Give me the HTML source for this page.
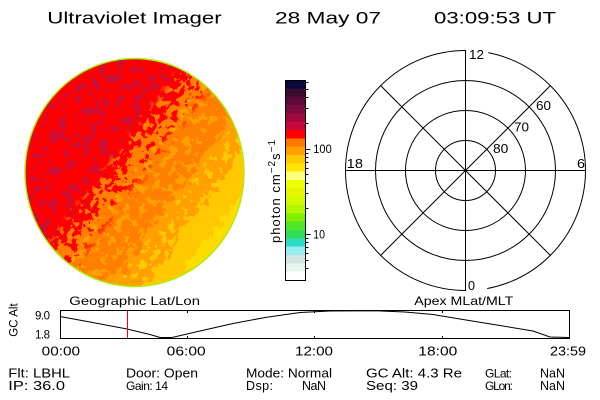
<!DOCTYPE html>
<html><head><meta charset="utf-8"><style>
html,body{margin:0;padding:0;background:#fff;}
svg{display:block;}
text{font-family:"Liberation Sans",sans-serif;fill:#000;}
</style></head><body>
<svg width="600" height="400" viewBox="0 0 600 400" xmlns="http://www.w3.org/2000/svg">
<defs>
<linearGradient id="g" gradientUnits="userSpaceOnUse" x1="0" y1="0" x2="320" y2="240">
<stop offset="0" stop-color="#ff0000"/>
<stop offset="0.495" stop-color="#ff0000"/>
<stop offset="0.495" stop-color="#ff8000"/>
<stop offset="0.645" stop-color="#ff8000"/>
<stop offset="0.645" stop-color="#ffa000"/>
<stop offset="0.7125" stop-color="#ffa000"/>
<stop offset="0.7125" stop-color="#ffc800"/>
<stop offset="0.775" stop-color="#ffc800"/>
<stop offset="0.775" stop-color="#ffdc00"/>
<stop offset="1" stop-color="#ffdc00"/>
</linearGradient>
<linearGradient id="gm1" gradientUnits="userSpaceOnUse" x1="0" y1="0" x2="320" y2="240">
<stop offset="0" stop-color="#fff"/>
<stop offset="0.43" stop-color="#fff"/>
<stop offset="0.49" stop-color="#000"/>
<stop offset="1" stop-color="#000"/>
</linearGradient>
<linearGradient id="gm2" gradientUnits="userSpaceOnUse" x1="0" y1="0" x2="320" y2="240">
<stop offset="0" stop-color="#000"/>
<stop offset="0.51" stop-color="#000"/>
<stop offset="0.53" stop-color="#fff"/>
<stop offset="0.64" stop-color="#fff"/>
<stop offset="0.65" stop-color="#000"/>
<stop offset="1" stop-color="#000"/>
</linearGradient>
<linearGradient id="gm3" gradientUnits="userSpaceOnUse" x1="0" y1="0" x2="320" y2="240">
<stop offset="0" stop-color="#000"/>
<stop offset="0.65" stop-color="#000"/>
<stop offset="0.66" stop-color="#fff"/>
<stop offset="0.71" stop-color="#fff"/>
<stop offset="0.72" stop-color="#000"/>
<stop offset="1" stop-color="#000"/>
</linearGradient>
<linearGradient id="gm4" gradientUnits="userSpaceOnUse" x1="0" y1="0" x2="320" y2="240">
<stop offset="0" stop-color="#000"/>
<stop offset="0.45" stop-color="#000"/>
<stop offset="0.475" stop-color="#fff"/>
<stop offset="0.495" stop-color="#fff"/>
<stop offset="0.495" stop-color="#000"/>
<stop offset="1" stop-color="#000"/>
</linearGradient>
<linearGradient id="gm5" gradientUnits="userSpaceOnUse" x1="0" y1="0" x2="320" y2="240">
<stop offset="0" stop-color="#000"/>
<stop offset="0.495" stop-color="#000"/>
<stop offset="0.495" stop-color="#fff"/>
<stop offset="0.53" stop-color="#fff"/>
<stop offset="0.57" stop-color="#000"/>
<stop offset="1" stop-color="#000"/>
</linearGradient>
<clipPath id="ce"><ellipse cx="134.5" cy="172.5" rx="109.5" ry="114"/></clipPath>
<filter id="disp" x="-10%" y="-10%" width="120%" height="120%" color-interpolation-filters="sRGB">
<feTurbulence type="fractalNoise" baseFrequency="0.09" numOctaves="3" seed="5" result="t"/>
<feDisplacementMap in="SourceGraphic" in2="t" scale="24" xChannelSelector="R" yChannelSelector="G"/>
</filter>
<filter id="crim" x="0" y="0" width="100%" height="100%" color-interpolation-filters="sRGB">
<feTurbulence type="fractalNoise" baseFrequency="0.12" numOctaves="3" seed="9" result="t"/>
<feColorMatrix in="t" type="matrix" values="0 0 0 0 0  0 0 0 0 0  0 0 0 0 0  1 0 0 0 0" result="a"/>
<feComponentTransfer in="a" result="b"><feFuncA type="discrete" tableValues="0 0 0 0 0 0 0 1 1 1 1 1"/></feComponentTransfer>
<feFlood flood-color="#c8103c"/>
<feComposite in2="b" operator="in"/>
</filter>
<filter id="spa" x="0" y="0" width="100%" height="100%" color-interpolation-filters="sRGB">
<feTurbulence type="fractalNoise" baseFrequency="0.13" numOctaves="3" seed="21" result="t"/>
<feColorMatrix in="t" type="matrix" values="0 0 0 0 0  0 0 0 0 0  0 0 0 0 0  1 0 0 0 0" result="a"/>
<feComponentTransfer in="a" result="b"><feFuncA type="discrete" tableValues="0 0 0 0 0 0 0 1 1 1 1 1"/></feComponentTransfer>
<feFlood flood-color="#ffa000"/>
<feComposite in2="b" operator="in"/>
</filter>
<filter id="spc" x="0" y="0" width="100%" height="100%" color-interpolation-filters="sRGB">
<feTurbulence type="fractalNoise" baseFrequency="0.13" numOctaves="3" seed="33" result="t"/>
<feColorMatrix in="t" type="matrix" values="0 0 0 0 0  0 0 0 0 0  0 0 0 0 0  1 0 0 0 0" result="a"/>
<feComponentTransfer in="a" result="b"><feFuncA type="discrete" tableValues="0 0 0 0 0 0 0 1 1 1 1 1"/></feComponentTransfer>
<feFlood flood-color="#ffc800"/>
<feComposite in2="b" operator="in"/>
</filter>
<filter id="spo" x="0" y="0" width="100%" height="100%" color-interpolation-filters="sRGB">
<feTurbulence type="fractalNoise" baseFrequency="0.14" numOctaves="3" seed="47" result="t"/>
<feColorMatrix in="t" type="matrix" values="0 0 0 0 0  0 0 0 0 0  0 0 0 0 0  1 0 0 0 0" result="a"/>
<feComponentTransfer in="a" result="b"><feFuncA type="discrete" tableValues="0 0 0 0 0 0 0 1 1 1 1 1"/></feComponentTransfer>
<feFlood flood-color="#ff8000"/>
<feComposite in2="b" operator="in"/>
</filter>
<filter id="spr" x="0" y="0" width="100%" height="100%" color-interpolation-filters="sRGB">
<feTurbulence type="fractalNoise" baseFrequency="0.14" numOctaves="3" seed="58" result="t"/>
<feColorMatrix in="t" type="matrix" values="0 0 0 0 0  0 0 0 0 0  0 0 0 0 0  1 0 0 0 0" result="a"/>
<feComponentTransfer in="a" result="b"><feFuncA type="discrete" tableValues="0 0 0 0 0 0 0 1 1 1 1 1"/></feComponentTransfer>
<feFlood flood-color="#ff0000"/>
<feComposite in2="b" operator="in"/>
</filter>
<mask id="mr"><rect x="0" y="40" width="270" height="270" fill="url(#gm1)"/></mask>
<mask id="mo"><rect x="0" y="40" width="270" height="270" fill="url(#gm2)"/></mask>
<mask id="my"><rect x="0" y="40" width="270" height="270" fill="url(#gm3)"/></mask>
<mask id="m4"><rect x="0" y="40" width="270" height="270" fill="url(#gm4)"/></mask>
<mask id="m5"><rect x="0" y="40" width="270" height="270" fill="url(#gm5)"/></mask>
</defs>
<rect width="600" height="400" fill="#fff"/>

<!-- Title -->
<text x="47.3" y="23.3" font-size="17" textLength="174.4" lengthAdjust="spacingAndGlyphs">Ultraviolet Imager</text>
<text x="275" y="23.3" font-size="17" textLength="106" lengthAdjust="spacingAndGlyphs">28 May 07</text>
<text x="434" y="23.3" font-size="17" textLength="122" lengthAdjust="spacingAndGlyphs">03:09:53 UT</text>

<!-- Globe -->
<g clip-path="url(#ce)">
<rect x="0" y="40" width="270" height="270" fill="url(#g)" filter="url(#disp)"/>
<g mask="url(#mr)"><rect x="0" y="40" width="270" height="270" fill="#c8103c" filter="url(#crim)"/></g>
<g mask="url(#mo)"><rect x="0" y="40" width="270" height="270" fill="#ffa000" filter="url(#spa)"/></g>
<g mask="url(#my)"><rect x="0" y="40" width="270" height="270" fill="#ffc800" filter="url(#spc)"/></g>
<g mask="url(#m4)"><rect x="0" y="40" width="270" height="270" fill="#ff8000" filter="url(#spo)"/></g>
<g mask="url(#m5)"><rect x="0" y="40" width="270" height="270" fill="#ff0000" filter="url(#spr)"/></g>
</g>
<ellipse cx="134.5" cy="172.5" rx="109.5" ry="114" fill="none" stroke="#a8f000" stroke-width="1.4"/>

<!-- Colorbar -->
<g shape-rendering="crispEdges">
<rect x="285.5" y="80" width="20" height="8.34" fill="#08083a"/>
<rect x="285.5" y="88.33" width="20" height="8.34" fill="#3a0a30"/>
<rect x="285.5" y="96.67" width="20" height="8.34" fill="#5a0a3a"/>
<rect x="285.5" y="105" width="20" height="8.34" fill="#7d0a3c"/>
<rect x="285.5" y="113.33" width="20" height="8.34" fill="#a0083c"/>
<rect x="285.5" y="121.67" width="20" height="8.34" fill="#c8083c"/>
<rect x="285.5" y="130" width="20" height="8.34" fill="#ff0000"/>
<rect x="285.5" y="138.33" width="20" height="8.34" fill="#ff7800"/>
<rect x="285.5" y="146.67" width="20" height="8.34" fill="#ffa000"/>
<rect x="285.5" y="155" width="20" height="8.34" fill="#ffc800"/>
<rect x="285.5" y="163.33" width="20" height="8.34" fill="#ffe600"/>
<rect x="285.5" y="171.67" width="20" height="8.34" fill="#ffff7d"/>
<rect x="285.5" y="180" width="20" height="8.34" fill="#f0ff00"/>
<rect x="285.5" y="188.33" width="20" height="8.34" fill="#e6f500"/>
<rect x="285.5" y="196.67" width="20" height="8.34" fill="#d2fa00"/>
<rect x="285.5" y="205" width="20" height="8.34" fill="#b4f500"/>
<rect x="285.5" y="213.33" width="20" height="8.34" fill="#80f000"/>
<rect x="285.5" y="221.67" width="20" height="8.34" fill="#50e628"/>
<rect x="285.5" y="230" width="20" height="8.34" fill="#32dc5a"/>
<rect x="285.5" y="238.33" width="20" height="8.34" fill="#2ddcc8"/>
<rect x="285.5" y="246.67" width="20" height="8.34" fill="#96eef0"/>
<rect x="285.5" y="255" width="20" height="8.34" fill="#d2e4e4"/>
<rect x="285.5" y="263.33" width="20" height="8.34" fill="#e8f4ee"/>
<rect x="285.5" y="271.67" width="20" height="8.33" fill="#ffffff"/>
</g>
<rect x="285.5" y="80.5" width="20" height="200" fill="none" stroke="#000" stroke-width="1"/>
<g stroke="#000" stroke-width="1">
<line x1="305.5" y1="149.5" x2="310.5" y2="149.5"/>
<line x1="305.5" y1="234.5" x2="310.5" y2="234.5"/>
<line x1="305.5" y1="82.5" x2="308.5" y2="82.5"/>
<line x1="305.5" y1="89.5" x2="308.5" y2="89.5"/>
<line x1="305.5" y1="97.5" x2="308.5" y2="97.5"/>
<line x1="305.5" y1="108.5" x2="308.5" y2="108.5"/>
<line x1="305.5" y1="123.5" x2="308.5" y2="123.5"/>
<line x1="305.5" y1="153.5" x2="308.5" y2="153.5"/>
<line x1="305.5" y1="157.5" x2="308.5" y2="157.5"/>
<line x1="305.5" y1="162.5" x2="308.5" y2="162.5"/>
<line x1="305.5" y1="168.5" x2="308.5" y2="168.5"/>
<line x1="305.5" y1="174.5" x2="308.5" y2="174.5"/>
<line x1="305.5" y1="183.5" x2="308.5" y2="183.5"/>
<line x1="305.5" y1="193.5" x2="308.5" y2="193.5"/>
<line x1="305.5" y1="208.5" x2="308.5" y2="208.5"/>
<line x1="305.5" y1="238.5" x2="308.5" y2="238.5"/>
<line x1="305.5" y1="242.5" x2="308.5" y2="242.5"/>
<line x1="305.5" y1="247.5" x2="308.5" y2="247.5"/>
<line x1="305.5" y1="253.5" x2="308.5" y2="253.5"/>
<line x1="305.5" y1="260.5" x2="308.5" y2="260.5"/>
<line x1="305.5" y1="268.5" x2="308.5" y2="268.5"/>
</g>
<text x="313.3" y="153" font-size="11.5" textLength="18.4" lengthAdjust="spacingAndGlyphs">100</text>
<text x="313.3" y="238.5" font-size="11.5" textLength="11.7" lengthAdjust="spacingAndGlyphs">10</text>
<text transform="translate(280,243) rotate(-90)" font-size="13" letter-spacing="1">photon cm<tspan font-size="10" dy="-5">−2</tspan><tspan font-size="13" dy="5">s</tspan><tspan font-size="10" dy="-5">−1</tspan></text>

<!-- Polar plot -->
<g fill="none" stroke="#000" stroke-width="1">
<circle cx="465.5" cy="170.5" r="30"/>
<circle cx="465.5" cy="170.5" r="60"/>
<circle cx="465.5" cy="170.5" r="90"/>
<circle cx="465.5" cy="170.5" r="120"/>
<line x1="345.5" y1="170.5" x2="585.5" y2="170.5"/>
<line x1="380.65" y1="85.65" x2="550.35" y2="255.35"/>
<line x1="380.65" y1="255.35" x2="550.35" y2="85.65"/>
</g>
<rect x="466.2" y="47" width="22" height="13" fill="#fff"/>
<rect x="466.2" y="279" width="21" height="13" fill="#fff"/>
<line x1="465.5" y1="50.5" x2="465.5" y2="290.5" stroke="#000" stroke-width="1"/>
<g font-size="12.5">
<text x="469" y="59" textLength="15" lengthAdjust="spacingAndGlyphs">12</text>
<text x="346.7" y="168" textLength="16.3" lengthAdjust="spacingAndGlyphs">18</text>
<text x="577" y="168" textLength="8" lengthAdjust="spacingAndGlyphs">6</text>
<text x="468" y="290" textLength="7" lengthAdjust="spacingAndGlyphs">0</text>
<text x="536" y="110" textLength="15" lengthAdjust="spacingAndGlyphs">60</text>
<text x="514" y="131.5" textLength="15" lengthAdjust="spacingAndGlyphs">70</text>
<text x="493" y="153" textLength="15.3" lengthAdjust="spacingAndGlyphs">80</text>
</g>

<!-- Bottom panel -->
<text x="69.3" y="305" font-size="12" textLength="130.7" lengthAdjust="spacingAndGlyphs">Geographic Lat/Lon</text>
<text x="414.3" y="305" font-size="12" textLength="99" lengthAdjust="spacingAndGlyphs">Apex MLat/MLT</text>
<text transform="translate(17.3,336.7) rotate(-90)" font-size="11.5" textLength="33.4" lengthAdjust="spacing">GC Alt</text>
<text x="35" y="319.5" font-size="11.5" textLength="15" lengthAdjust="spacing">9.0</text>
<text x="35" y="338.5" font-size="11.5" textLength="15" lengthAdjust="spacing">1.8</text>
<rect x="60.5" y="310.5" width="509" height="28" fill="none" stroke="#000" stroke-width="1"/>
<g stroke="#000" stroke-width="1">
<line x1="187.5" y1="310.5" x2="187.5" y2="313"/>
<line x1="314.5" y1="310.5" x2="314.5" y2="313"/>
<line x1="442.5" y1="310.5" x2="442.5" y2="313"/>
<line x1="187.5" y1="336" x2="187.5" y2="338.5"/>
<line x1="314.5" y1="336" x2="314.5" y2="338.5"/>
<line x1="442.5" y1="336" x2="442.5" y2="338.5"/>
</g>
<polyline fill="none" stroke="#000" stroke-width="1" points="60,316.5 90,322 127,329 150,334.5 160,337.5 172,337.5 200,331 233,323.5 265,317.5 300,312.5 330,311 376,310.8 405,312 433,314.5 466,320 500,325.5 533,331 550,337 569,337.5"/>
<line x1="127.5" y1="311" x2="127.5" y2="338" stroke="#ff0000" stroke-width="1"/>

<g font-size="12.5">
<text x="41.7" y="355.7" textLength="38.3" lengthAdjust="spacingAndGlyphs">00:00</text>
<text x="166.7" y="355.7" textLength="39" lengthAdjust="spacingAndGlyphs">06:00</text>
<text x="295" y="355.7" textLength="38" lengthAdjust="spacingAndGlyphs">12:00</text>
<text x="418.3" y="355.7" textLength="39" lengthAdjust="spacingAndGlyphs">18:00</text>
<text x="550" y="355.7" textLength="36" lengthAdjust="spacingAndGlyphs">23:59</text>

<text x="8.3" y="377.3" textLength="61.7" lengthAdjust="spacingAndGlyphs">Flt: LBHL</text>
<text x="126" y="377.3" textLength="72" lengthAdjust="spacingAndGlyphs">Door: Open</text>
<text x="246" y="377.3" textLength="86" lengthAdjust="spacingAndGlyphs">Mode: Normal</text>
<text x="366" y="377.3" textLength="96" lengthAdjust="spacingAndGlyphs">GC Alt: 4.3 Re</text>
<text x="485" y="377.3" font-size="12" textLength="27" lengthAdjust="spacing">GLat:</text>
<text x="540" y="377.3" textLength="25" lengthAdjust="spacing">NaN</text>

<text x="8.3" y="390" textLength="56.7" lengthAdjust="spacingAndGlyphs">IP: 36.0</text>
<text x="126" y="390" font-size="12" textLength="42" lengthAdjust="spacing">Gain: 14</text>
<text x="246" y="390" textLength="27" lengthAdjust="spacing">Dsp:</text>
<text x="302" y="390" textLength="24" lengthAdjust="spacing">NaN</text>
<text x="366" y="390" textLength="52" lengthAdjust="spacingAndGlyphs">Seq: 39</text>
<text x="485" y="390" font-size="12" textLength="28" lengthAdjust="spacing">GLon:</text>
<text x="540" y="390" textLength="25" lengthAdjust="spacing">NaN</text>
</g>
</svg>
</body></html>
